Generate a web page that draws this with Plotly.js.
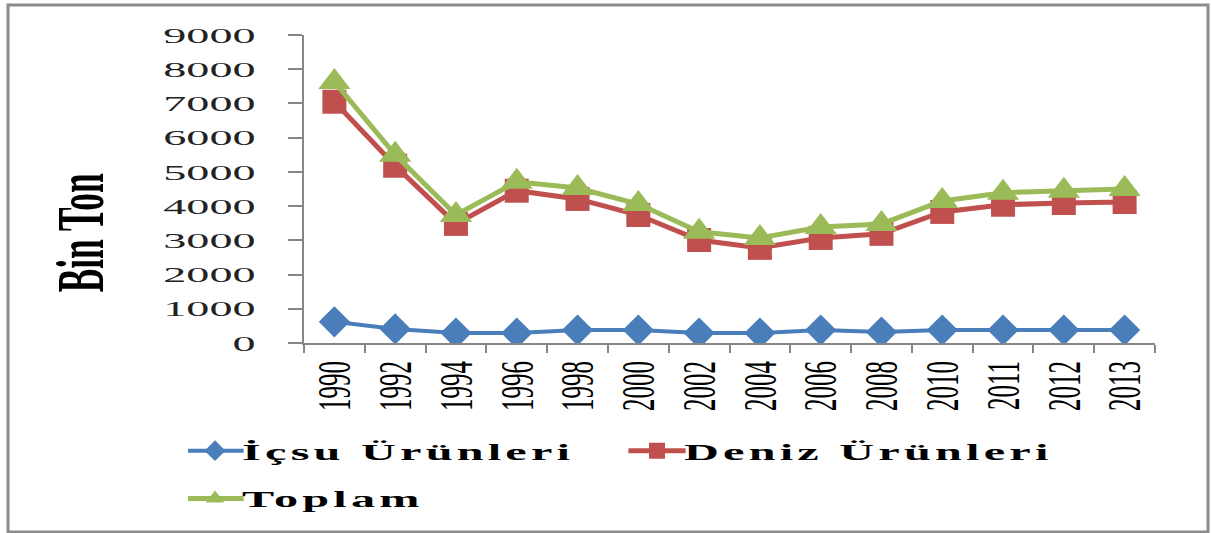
<!DOCTYPE html>
<html>
<head>
<meta charset="utf-8">
<script src="https://cdn.plot.ly/plotly-3.0.1.min.js"></script>
<style>
html,body{margin:0;padding:0;background:#fff;}
/* the reference's text is stretched horizontally; mimic it */
#chart g.ytick { transform: scaleX(2.1); transform-box: fill-box; transform-origin: 100% 50%; }
#chart g.xtick { transform: scaleX(1.9); transform-box: fill-box; transform-origin: 50% 50%; }
#chart text.legendtext, #chart text.legend2text { transform: scaleX(2.1); transform-box: fill-box; transform-origin: 0% 50%; letter-spacing: 2px; }
#chart g.legendlines path { transform: scaleX(1.3); transform-box: fill-box; transform-origin: 50% 50%; }
#chart text.annotation-text { transform: scaleX(0.52); transform-box: fill-box; transform-origin: 50% 50%; }
</style>
</head>
<body>
<div id="chart" style="width:1211px;height:533px;"></div>
<script>
const years = ["1990","1992","1994","1996","1998","2000","2002","2004","2006","2008","2010","2011","2012","2013"];
const icsu = [620, 410, 290, 290, 380, 380, 290, 290, 380, 320, 380, 380, 380, 380];
const deniz = [7050, 5180, 3480, 4450, 4210, 3740, 3010, 2780, 3070, 3190, 3830, 4040, 4090, 4120];
const toplam = [7630, 5500, 3740, 4710, 4530, 4060, 3250, 3070, 3390, 3480, 4150, 4390, 4450, 4500];
const yTicks = [0, 1000, 2000, 3000, 4000, 5000, 6000, 7000, 8000, 9000];
const seriesNames = ["İçsu Ürünleri", "Deniz Ürünleri", "Toplam"];
const yTitle = "Bin Ton";

const legendFont = {family: "Liberation Serif", size: 23, color: "#000"};

const traces = [
  {x: years, y: icsu, name: "<b>" + seriesNames[0] + "</b>", type: "scatter", mode: "lines+markers", legend: "legend",
   line: {color: "#4A7EBB", width: 4}, marker: {symbol: "diamond", size: 24, color: "#4A7EBB"}},
  {x: years, y: deniz, name: "<b>" + seriesNames[1] + "</b>", type: "scatter", mode: "lines+markers", legend: "legend",
   line: {color: "#C0504D", width: 5}, marker: {symbol: "square", size: 24, color: "#C0504D"}},
  {x: years, y: toplam, name: "<b>" + seriesNames[2] + "</b>", type: "scatter", mode: "lines+markers", legend: "legend2",
   line: {color: "#9BBB59", width: 5}, marker: {symbol: "triangle-up", size: 28, color: "#9BBB59"}}
];

const layout = {
  width: 1211, height: 533,
  margin: {l: 304, r: 56, t: 35, b: 190},
  paper_bgcolor: "#fff", plot_bgcolor: "#fff",
  showlegend: true,
  legend: {orientation: "h", x: -0.1363, y: -0.28, xanchor: "left", yanchor: "top", itemwidth: 44,
           font: legendFont, entrywidth: 383, bgcolor: "rgba(0,0,0,0)", traceorder: "normal"},
  legend2: {orientation: "h", x: -0.1363, y: -0.435, xanchor: "left", yanchor: "top", itemwidth: 44,
           font: legendFont, entrywidth: 260, bgcolor: "rgba(0,0,0,0)"},
  xaxis: {type: "category", range: [-0.5, 13.5], showgrid: false, zeroline: false,
          showline: true, linecolor: "#868686", linewidth: 2,
          ticks: "outside", ticklen: 8, tickcolor: "#868686", tickwidth: 2, tickson: "boundaries",
          tickangle: -90, ticklabelstandoff: 6,
          tickfont: {family: "Liberation Serif", size: 25, color: "#000"}},
  yaxis: {range: [0, 9000], tickvals: yTicks, showgrid: false, zeroline: false,
          showline: true, linecolor: "#868686", linewidth: 2,
          ticks: "outside", ticklen: 14, tickcolor: "#868686", tickwidth: 2, ticklabelstandoff: 28,
          tickfont: {family: "Liberation Serif", size: 22, color: "#222"}},
  annotations: [{text: "<b>" + yTitle + "</b>", xref: "paper", yref: "paper", x: -0.263, y: 0.357,
                 xanchor: "center", yanchor: "middle", textangle: -90, showarrow: false,
                 font: {family: "Liberation Serif", size: 68, color: "#000"}}],
  shapes: [{type: "rect", xref: "paper", yref: "paper", x0: -0.3478, x1: 1.0623, y0: -0.6136, y1: 1.0974,
            line: {color: "#8c8c8c", width: 3}}]
};

Plotly.newPlot("chart", traces, layout, {displayModeBar: false, staticPlot: true});
</script>
</body>
</html>
